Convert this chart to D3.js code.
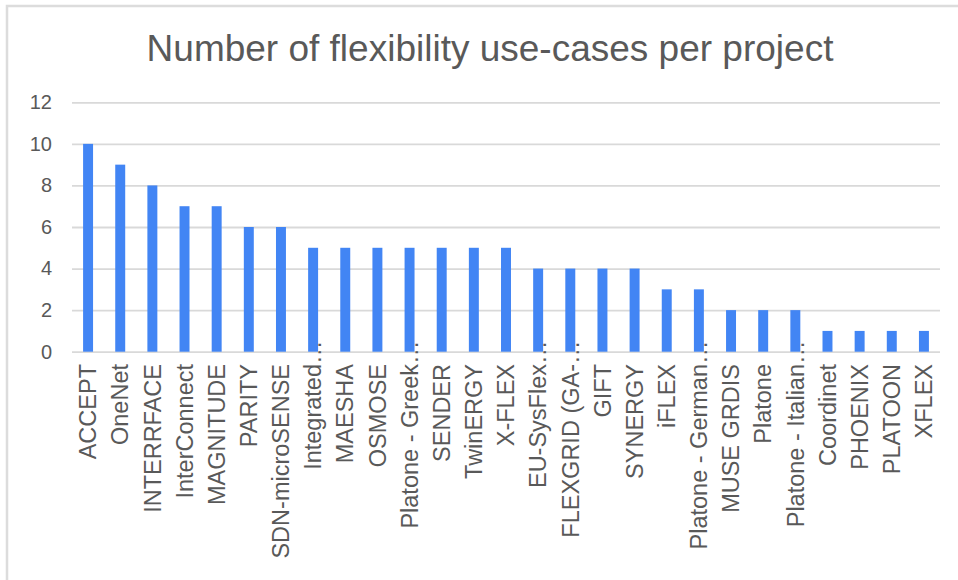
<!DOCTYPE html>
<html>
<head>
<meta charset="utf-8">
<script src="https://cdn.jsdelivr.net/npm/d3@7"></script>
<style>
  html, body { margin: 0; padding: 0; background: #fff; }
  svg { display: block; font-family: "Liberation Sans", Arial, sans-serif; }
</style>
</head>
<body>
<svg id="chart" width="958" height="580"></svg>
<script>
const title = "Number of flexibility use-cases per project";
const categories = [
  "ACCEPT", "OneNet", "INTERRFACE", "InterConnect", "MAGNITUDE", "PARITY",
  "SDN-microSENSE", "Integrated…", "MAESHA", "OSMOSE", "Platone - Greek…",
  "SENDER", "TwinERGY", "X-FLEX", "EU-SysFlex…", "FLEXGRID (GA-…", "GIFT",
  "SYNERGY", "iFLEX", "Platone - German…", "MUSE GRDIS", "Platone",
  "Platone - Italian…", "Coordinet", "PHOENIX", "PLATOON", "XFLEX"
];
const values = [10, 9, 8, 7, 7, 6, 6, 5, 5, 5, 5, 5, 5, 5, 4, 4, 4, 4, 3, 3, 2, 2, 2, 1, 1, 1, 1];
const yTicks = [0, 2, 4, 6, 8, 10, 12];

const svg = d3.select("#chart");
const textColor = "#595959";
const gridColor = "#d9d9d9";
const barColor = "#4285f4";

// outer frame (top and left edges visible)
svg.append("path")
  .attr("d", "M7,580 V6 H958")
  .attr("fill", "none")
  .attr("stroke", "#dcdcdc")
  .attr("stroke-width", 2.5);

const plotLeft = 72, plotRight = 940, plotTop = 102.3, plotBottom = 351.7;

const x = d3.scaleBand().domain(categories).range([plotLeft, plotRight]).paddingInner(0.69).paddingOuter(0.345);
const y = d3.scaleLinear().domain([0, 12]).range([plotBottom, plotTop]);

// title
svg.append("text")
  .attr("x", 490).attr("y", 61)
  .attr("text-anchor", "middle")
  .attr("fill", textColor)
  .style("font-size", "37px")
  .text(title);

// gridlines + y labels via axis
const yAxis = d3.axisLeft(y).tickValues(yTicks).tickSize(-(plotRight - plotLeft)).tickPadding(20).tickFormat(d3.format("d"));
const gy = svg.append("g").attr("transform", `translate(${plotLeft},0)`).call(yAxis);
gy.select(".domain").remove();
gy.selectAll(".tick line").attr("stroke", gridColor).attr("stroke-width", 1.8);
gy.selectAll(".tick text")
  .attr("fill", textColor)
  .style("font-size", "20px")
  .style("font-family", "'Liberation Sans', Arial, sans-serif");

// bars
svg.append("g").selectAll("rect")
  .data(categories)
  .join("rect")
  .attr("x", d => x(d))
  .attr("width", x.bandwidth())
  .attr("y", (d, i) => y(values[i]))
  .attr("height", (d, i) => y(0) - y(values[i]))
  .attr("fill", barColor);

// x labels, rotated
const labelTop = 364;
const lg = svg.append("g");
categories.forEach(c => {
  const cx = x(c) + x.bandwidth() / 2;
  const truncated = c.endsWith("…");
  const main = truncated ? c.slice(0, -1) : c;
  const g = lg.append("g").attr("transform", `translate(${cx},${labelTop}) rotate(-90)`);
  g.append("text")
    .attr("x", 0).attr("y", 0).attr("dy", "0.35em")
    .attr("text-anchor", "end")
    .attr("fill", textColor)
    .style("font-size", "23.5px")
    .text(main);
  if (truncated) {
    g.append("text")
      .attr("x", 0).attr("y", 0).attr("dy", "0.35em")
      .attr("text-anchor", "start")
      .attr("fill", textColor)
      .style("font-size", "23.5px")
      .text("…");
  }
});
</script>
</body>
</html>
